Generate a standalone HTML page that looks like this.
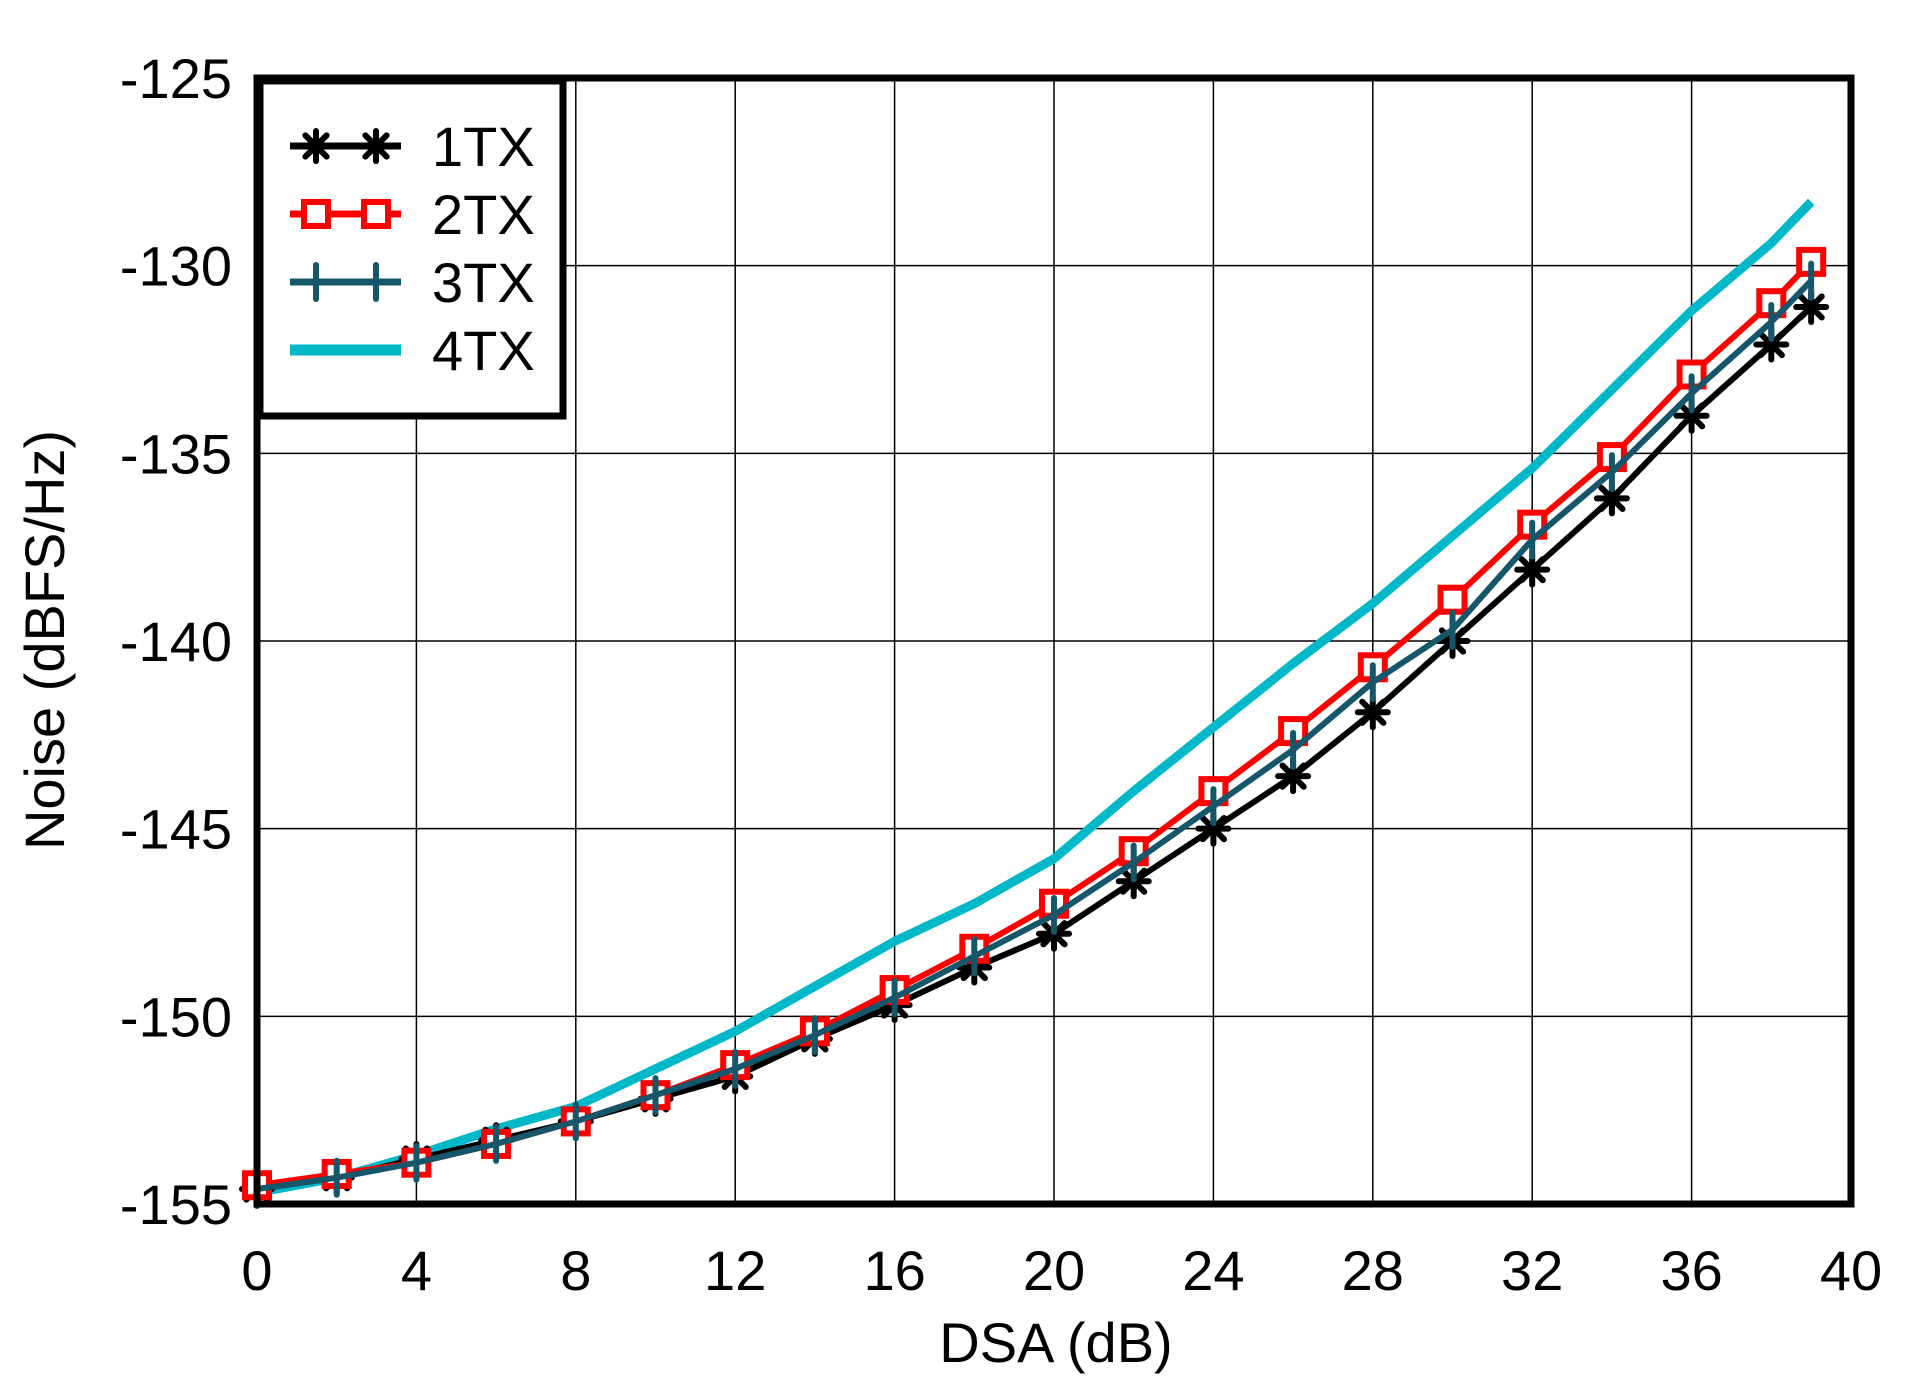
<!DOCTYPE html>
<html><head><meta charset="utf-8"><style>
html,body{margin:0;padding:0;background:#fff;}
svg{display:block;font-family:"Liberation Sans",Arial,sans-serif;}
</style></head><body>
<svg id="s" width="1918" height="1382" viewBox="0 0 1918 1382" xmlns="http://www.w3.org/2000/svg">
<rect width="1918" height="1382" fill="#fff"/>
<g id="grid" stroke="#000" stroke-width="1.5"></g>
<g id="series"></g>
<rect x="257" y="78" width="1594" height="1126" fill="none" stroke="#000" stroke-width="7"/>
<g id="ticks" font-size="56" fill="#000"></g>
<text x="1056" y="1362" font-size="56" text-anchor="middle">DSA (dB)</text>
<text transform="translate(64,640) rotate(-90)" font-size="56" text-anchor="middle">Noise (dBFS/Hz)</text>
<g id="legend">
<rect x="260" y="81" width="303" height="335" fill="#fff" stroke="#000" stroke-width="7"/>
</g>
</svg>
<script>
const NS="http://www.w3.org/2000/svg";
function el(t,a,p){const e=document.createElementNS(NS,t);for(const k in a)e.setAttribute(k,a[k]);p.appendChild(e);return e;}
const X=v=>257+v*39.85, Y=v=>78+(-125-v)*37.533;
const grid=document.getElementById('grid'),ticks=document.getElementById('ticks'),ser=document.getElementById('series'),leg=document.getElementById('legend');
for(let i=1;i<10;i++){el('line',{x1:X(i*4),x2:X(i*4),y1:78,y2:1204},grid);}
for(let i=1;i<6;i++){el('line',{x1:257,x2:1851,y1:78+i*187.67,y2:78+i*187.67},grid);}
for(let i=0;i<=10;i++){const t=el('text',{x:X(i*4),y:1290,'text-anchor':'middle'},ticks);t.textContent=i*4;}
for(let i=0;i<=6;i++){const v=-125-5*i;const t=el('text',{x:232,y:Y(v)+20,'text-anchor':'end'},ticks);t.textContent=v;}
const xs=[0,2,4,6,8,10,12,14,16,18,20,22,24,26,28,30,32,34,36,38,39];
const d1=[-154.6,-154.3,-153.8,-153.3,-152.8,-152.2,-151.6,-150.6,-149.7,-148.7,-147.8,-146.4,-145.0,-143.6,-141.9,-140.0,-138.1,-136.2,-134.0,-132.1,-131.1];
const d2=[-154.5,-154.2,-153.9,-153.4,-152.8,-152.1,-151.3,-150.4,-149.3,-148.2,-147.0,-145.6,-144.0,-142.4,-140.7,-138.9,-136.9,-135.1,-132.9,-131.0,-129.9];
const d3=[-154.6,-154.3,-153.9,-153.4,-152.8,-152.1,-151.4,-150.5,-149.5,-148.4,-147.3,-145.9,-144.4,-142.9,-141.1,-139.7,-137.3,-135.5,-133.4,-131.5,-130.4];
const d4=[-154.7,-154.3,-153.7,-153.0,-152.4,-151.4,-150.4,-149.2,-148.0,-147.0,-145.8,-144.0,-142.3,-140.6,-139.0,-137.2,-135.4,-133.3,-131.2,-129.4,-128.3];
function poly(d,c,w){el('polyline',{points:xs.map((x,i)=>X(x)+','+Y(d[i])).join(' '),fill:'none',stroke:c,'stroke-width':w,'stroke-linejoin':'round'},ser);}
function star(x,y,p){for(let a=0;a<4;a++){const r=a*Math.PI/4,dx=15*Math.cos(r),dy=15*Math.sin(r);el('line',{x1:x-dx,y1:y-dy,x2:x+dx,y2:y+dy,stroke:'#000','stroke-width':6,'stroke-linecap':'round'},p);}}
function sq(x,y,p){el('rect',{x:x-12,y:y-12,width:24,height:24,fill:'#fff',stroke:'#ff0000','stroke-width':6},p);}
function plus(x,y,p){el('line',{x1:x,y1:y-17,x2:x,y2:y+17,stroke:'#16566a','stroke-width':6,'stroke-linecap':'round'},p);}
poly(d4,'#00b8c8',9);
poly(d1,'#000',6);xs.forEach((x,i)=>star(X(x),Y(d1[i]),ser));
poly(d2,'#ff0000',6);xs.forEach((x,i)=>sq(X(x),Y(d2[i]),ser));
poly(d3,'#16566a',6);xs.forEach((x,i)=>plus(X(x),Y(d3[i]),ser));
const ly=[146,214,282,350],names=['1TX','2TX','3TX','4TX'],cols=['#000','#ff0000','#16566a','#00b8c8'];
for(let i=0;i<4;i++){
 el('line',{x1:290,x2:401,y1:ly[i],y2:ly[i],stroke:cols[i],'stroke-width':i==3?11:7},leg);
 if(i==0){star(316,ly[i],leg);star(376,ly[i],leg);}
 if(i==1){sq(316,ly[i],leg);sq(376,ly[i],leg);}
 if(i==2){plus(316,ly[i],leg);plus(376,ly[i],leg);}
 const t=el('text',{x:432,y:ly[i]+20,'font-size':56},leg);t.textContent=names[i];
}
</script>
</body></html>
